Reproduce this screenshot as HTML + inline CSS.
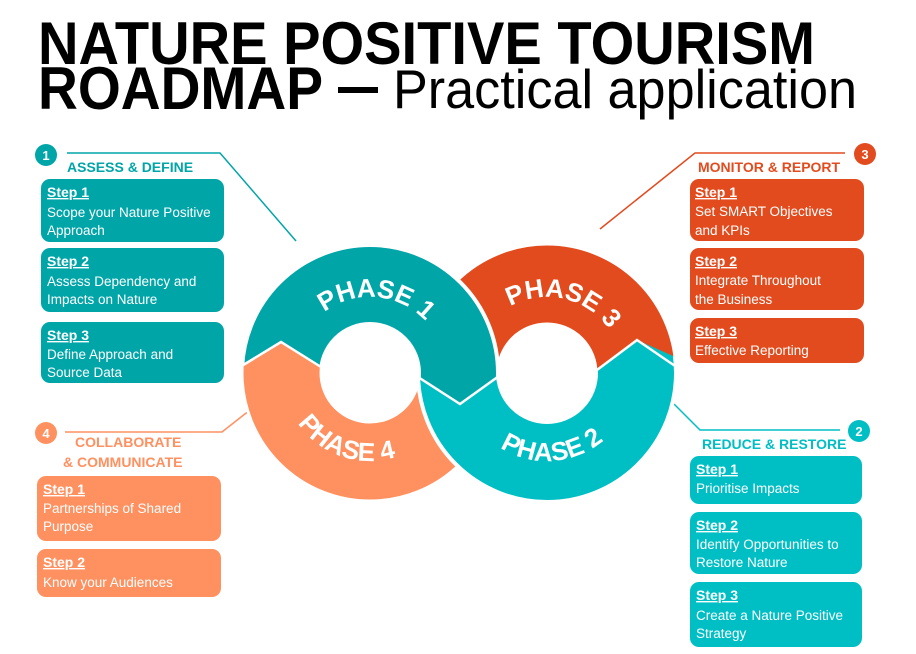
<!DOCTYPE html>
<html><head><meta charset="utf-8"><style>
html,body{margin:0;padding:0;background:#fff;}
svg{display:block;}
text{font-family:"Liberation Sans",sans-serif;}
.st{font-weight:bold;font-size:14px;fill:#fff;text-decoration:underline;}
.bt{font-size:13.5px;fill:#fff;}
.hd{font-weight:bold;font-size:14px;}
.ph{font-weight:bold;font-size:26px;fill:#fff;letter-spacing:0px;}
</style></head><body>
<svg width="916" height="654" viewBox="0 0 916 654" xmlns="http://www.w3.org/2000/svg">
<defs>
<clipPath id="c1"><polygon points="200,367 242,367 281,342 321,367 418,377 460,404 499,376 510,376 510,220 200,220"/></clipPath>
<clipPath id="c2"><polygon points="405,378 418,377 460,404 499,376 597,370 637,340 700,368 700,530 405,530"/></clipPath>
<path id="a1" d="M307.7,329.4 A76,76 0 0 1 438.9,340.9"/>
<path id="a3" d="M491.4,321.2 A76,76 0 0 1 619.7,350.8"/>
<path id="a4" d="M283.6,389.8 A88,88 0 0 0 427.7,439.4"/>
<path id="a2" d="M474,422.2 A88,88 0 0 0 626.1,411.6"/>
</defs>

<!-- Title -->
<text x="38" y="64" font-size="60" font-weight="bold" fill="#000" textLength="777" lengthAdjust="spacingAndGlyphs">NATURE POSITIVE TOURISM</text>
<text x="38" y="109" font-size="60" font-weight="bold" fill="#000" textLength="285" lengthAdjust="spacingAndGlyphs">ROADMAP</text>
<rect x="338" y="87" width="40" height="6" fill="#000"/>
<text x="393" y="108" font-size="55" fill="#000" textLength="464" lengthAdjust="spacingAndGlyphs">Practical application</text>

<!-- connectors -->
<polyline points="67,153 220,153 296,241" fill="none" stroke="#00A5A8" stroke-width="1.5"/>
<polyline points="845,153 695,153 600,229" fill="none" stroke="#E24B1E" stroke-width="1.5"/>
<polyline points="840,430 700,430 674,404" fill="none" stroke="#00BFC4" stroke-width="1.5"/>
<polyline points="65,432 222,432 250,410" fill="none" stroke="#FF9060" stroke-width="1.5"/>

<!-- rings -->
<path fill-rule="evenodd" fill="#FF9060" stroke="#fff" stroke-width="3" d="M242,373 a128,128 0 1 0 256,0 a128,128 0 1 0 -256,0 Z M321,373 a49,49 0 1 0 98,0 a49,49 0 1 0 -98,0 Z"/>
<path fill-rule="evenodd" fill="#E24B1E" stroke="#fff" stroke-width="3" d="M418,373 a129,129 0 1 0 258,0 a129,129 0 1 0 -258,0 Z M498,373 a49,49 0 1 0 98,0 a49,49 0 1 0 -98,0 Z"/>
<g clip-path="url(#c1)"><path fill-rule="evenodd" fill="#00A5A8" stroke="#fff" stroke-width="4" d="M242,373 a128,128 0 1 0 256,0 a128,128 0 1 0 -256,0 Z M321,373 a49,49 0 1 0 98,0 a49,49 0 1 0 -98,0 Z"/></g>
<g clip-path="url(#c2)"><path fill-rule="evenodd" fill="#00BFC4" stroke="#fff" stroke-width="4" d="M418,373 a129,129 0 1 0 258,0 a129,129 0 1 0 -258,0 Z M498,373 a49,49 0 1 0 98,0 a49,49 0 1 0 -98,0 Z"/></g>
<polyline points="240,367 281,342 321,367" fill="none" stroke="#fff" stroke-width="2.5"/>
<polyline points="418,377 460,404 499,376" fill="none" stroke="#fff" stroke-width="2.5"/>
<polyline points="597,370 637,340 678,368" fill="none" stroke="#fff" stroke-width="2.5"/>

<text class="ph"><textPath href="#a1" startOffset="50%" text-anchor="middle">PHASE 1</textPath></text>
<text class="ph"><textPath href="#a3" startOffset="50%" text-anchor="middle">PHASE 3</textPath></text>
<text class="ph"><textPath href="#a4" startOffset="50%" text-anchor="middle">PHASE 4</textPath></text>
<text class="ph"><textPath href="#a2" startOffset="50%" text-anchor="middle">PHASE 2</textPath></text>

<!-- Section 1 -->
<circle cx="46" cy="155" r="11" fill="#00A5A8"/>
<text x="46" y="160" font-size="13" font-weight="bold" fill="#fff" text-anchor="middle">1</text>
<text class="hd" x="67" y="172" fill="#00A5A8">ASSESS &amp; DEFINE</text>
<rect x="41" y="179" width="183" height="63" rx="9" fill="#00A5A8"/>
<text class="st" x="47" y="197">Step 1</text>
<text class="bt" x="47" y="217">Scope your Nature Positive</text>
<text class="bt" x="47" y="235">Approach</text>
<rect x="41" y="248" width="183" height="64" rx="9" fill="#00A5A8"/>
<text class="st" x="47" y="266">Step 2</text>
<text class="bt" x="47" y="286">Assess Dependency and</text>
<text class="bt" x="47" y="304">Impacts on Nature</text>
<rect x="41" y="322" width="183" height="61" rx="9" fill="#00A5A8"/>
<text class="st" x="47" y="340">Step 3</text>
<text class="bt" x="47" y="359">Define Approach and</text>
<text class="bt" x="47" y="377">Source Data</text>

<!-- Section 3 -->
<circle cx="865" cy="154" r="11" fill="#E24B1E"/>
<text x="865" y="159" font-size="13" font-weight="bold" fill="#fff" text-anchor="middle">3</text>
<text class="hd" x="698" y="172" fill="#E24B1E">MONITOR &amp; REPORT</text>
<rect x="690" y="179" width="174" height="62" rx="9" fill="#E24B1E"/>
<text class="st" x="695" y="197">Step 1</text>
<text class="bt" x="695" y="216">Set SMART Objectives</text>
<text class="bt" x="695" y="235">and KPIs</text>
<rect x="690" y="248" width="174" height="62" rx="9" fill="#E24B1E"/>
<text class="st" x="695" y="266">Step 2</text>
<text class="bt" x="695" y="285">Integrate Throughout</text>
<text class="bt" x="695" y="304">the Business</text>
<rect x="690" y="318" width="174" height="45" rx="9" fill="#E24B1E"/>
<text class="st" x="695" y="336">Step 3</text>
<text class="bt" x="695" y="355">Effective Reporting</text>

<!-- Section 2 -->
<circle cx="859" cy="431" r="11" fill="#00BFC4"/>
<text x="859" y="436" font-size="13" font-weight="bold" fill="#fff" text-anchor="middle">2</text>
<text class="hd" x="702" y="449" fill="#00BFC4">REDUCE &amp; RESTORE</text>
<rect x="690" y="456" width="172" height="48" rx="9" fill="#00BFC4"/>
<text class="st" x="696" y="474">Step 1</text>
<text class="bt" x="696" y="493">Prioritise Impacts</text>
<rect x="690" y="512" width="172" height="62" rx="9" fill="#00BFC4"/>
<text class="st" x="696" y="530">Step 2</text>
<text class="bt" x="696" y="549">Identify Opportunities to</text>
<text class="bt" x="696" y="567">Restore Nature</text>
<rect x="690" y="582" width="172" height="65" rx="9" fill="#00BFC4"/>
<text class="st" x="696" y="600">Step 3</text>
<text class="bt" x="696" y="620">Create a Nature Positive</text>
<text class="bt" x="696" y="638">Strategy</text>

<!-- Section 4 -->
<circle cx="46" cy="433" r="11" fill="#FF9060"/>
<text x="46" y="438" font-size="13" font-weight="bold" fill="#fff" text-anchor="middle">4</text>
<text class="hd" x="75" y="447" fill="#FF9060">COLLABORATE</text>
<text class="hd" x="63" y="467" fill="#FF9060">&amp; COMMUNICATE</text>
<rect x="37" y="476" width="184" height="65" rx="9" fill="#FF9060"/>
<text class="st" x="43" y="494">Step 1</text>
<text class="bt" x="43" y="513">Partnerships of Shared</text>
<text class="bt" x="43" y="531">Purpose</text>
<rect x="37" y="549" width="184" height="48" rx="9" fill="#FF9060"/>
<text class="st" x="43" y="567">Step 2</text>
<text class="bt" x="43" y="587">Know your Audiences</text>
</svg>
</body></html>
